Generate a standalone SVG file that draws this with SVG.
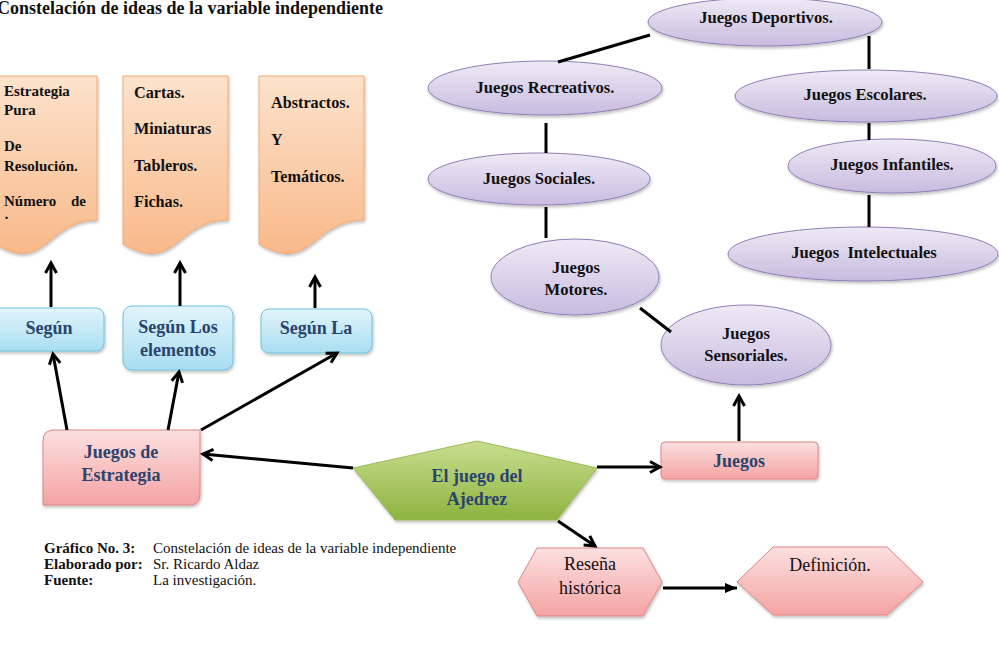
<svg xmlns="http://www.w3.org/2000/svg" width="999" height="650" viewBox="0 0 999 650">
<defs>
<linearGradient id="gOr" x1="0" y1="0" x2="0" y2="1"><stop offset="0" stop-color="#FDE3CC"/><stop offset="1" stop-color="#F9B98A"/></linearGradient>
<linearGradient id="gBl" x1="0" y1="0" x2="0" y2="1"><stop offset="0" stop-color="#E2F4FB"/><stop offset="1" stop-color="#A8DEF2"/></linearGradient>
<linearGradient id="gPk" x1="0" y1="0" x2="0" y2="1"><stop offset="0" stop-color="#FCE0E0"/><stop offset="1" stop-color="#F5A3A3"/></linearGradient>
<linearGradient id="gPu" x1="0" y1="0" x2="0" y2="1"><stop offset="0" stop-color="#EEEAF5"/><stop offset="1" stop-color="#C9BBE0"/></linearGradient>
<linearGradient id="gGr" x1="0" y1="0" x2="0" y2="1"><stop offset="0" stop-color="#C9DE8F"/><stop offset="1" stop-color="#8DB33F"/></linearGradient>
<filter id="sh" x="-10%" y="-10%" width="130%" height="140%"><feDropShadow dx="1" dy="2" stdDeviation="1.5" flood-color="#000" flood-opacity="0.25"/></filter>
<marker id="open" markerUnits="userSpaceOnUse" markerWidth="16" markerHeight="16" viewBox="0 0 16 16" refX="13" refY="8" orient="auto"><path d="M3,2.5 L13,8 L3,13.5" fill="none" stroke="#000" stroke-width="3"/></marker>
<marker id="fill" markerUnits="userSpaceOnUse" markerWidth="14" markerHeight="14" viewBox="0 0 14 14" refX="13" refY="7" orient="auto"><path d="M1,2 L13,7 L1,12 Z" fill="#000"/></marker>
</defs>
<style>
.doc{fill:url(#gOr);stroke:#F4A96F;stroke-width:1;filter:url(#sh)}
.blu{fill:url(#gBl);stroke:#6CC3DD;stroke-width:1;filter:url(#sh)}
.pnk{fill:url(#gPk);stroke:#E08585;stroke-width:1;filter:url(#sh)}
.pur{fill:url(#gPu);stroke:#8F7FB5;stroke-width:1;filter:url(#sh)}
.grn{fill:url(#gGr);stroke:#9BBB59;stroke-width:1;filter:url(#sh)}
.t{font-family:"Liberation Serif","Times New Roman",serif}
.b{font-weight:bold}
.db{fill:#2B446E}
.k{fill:#111}
.c{text-anchor:middle}
.ln{stroke:#000;stroke-width:3;fill:none}
</style>

<text class="t b k" x="-3" y="14" font-size="18">Constelación de ideas de la variable independiente</text>

<g id="doc1">
<path class="doc" d="M-5,76 H97 V220 C46,220 46,275 -5,244 Z"/>
<text class="t b k" font-size="15"><tspan x="4" y="96">Estrategia</tspan><tspan x="4" y="115">Pura</tspan><tspan x="4" y="151">De</tspan><tspan x="4" y="171">Resolución.</tspan><tspan x="4" y="206">Número</tspan><tspan x="71" y="206">de</tspan></text>
<text class="t b k" x="4" y="223" font-size="15">·</text>
</g>
<g id="doc2">
<path class="doc" d="M123,76 H228 V220 C175.5,220 175.5,275 123,244 Z"/>
<text class="t b k" font-size="16.2"><tspan x="134" y="98">Cartas.</tspan><tspan x="134" y="134">Miniaturas</tspan><tspan x="134" y="171">Tableros.</tspan><tspan x="134" y="207">Fichas.</tspan></text>
</g>
<g id="doc3">
<path class="doc" d="M259,76 H364 V220 C311.5,220 311.5,275 259,244 Z"/>
<text class="t b k" font-size="16.2"><tspan x="271" y="108">Abstractos.</tspan><tspan x="271" y="145">Y</tspan><tspan x="271" y="182">Temáticos.</tspan></text>
</g>

<g id="segun1">
<rect class="blu" x="-8" y="308" width="112" height="43" rx="8"/>
<text class="t b db c" x="49" y="334" font-size="18">Según</text>
</g>
<g id="segun2">
<rect class="blu" x="123" y="306" width="110" height="64" rx="9"/>
<text class="t b db c" font-size="18"><tspan x="178" y="333">Según Los</tspan><tspan x="178" y="356">elementos</tspan></text>
</g>
<g id="segun3">
<rect class="blu" x="261" y="309" width="111" height="44" rx="8"/>
<text class="t b db c" x="316" y="334" font-size="18">Según La</text>
</g>

<g id="estrategia">
<path class="pnk" d="M54,430 H200 V494 Q200,505 189,505 H43 V441 Q43,430 54,430 Z"/>
<text class="t b db c" font-size="18"><tspan x="121" y="458">Juegos de</tspan><tspan x="121" y="481">Estrategia</tspan></text>
</g>

<g id="ajedrez">
<polygon class="grn" points="353,468 477,441 597,468 557,520 395,520"/>
<text class="t b db c" font-size="18"><tspan x="477" y="482">El juego del</tspan><tspan x="477" y="505">Ajedrez</tspan></text>
</g>

<g id="juegos">
<rect class="pnk" x="661" y="442" width="157" height="37" rx="4"/>
<text class="t b db c" x="739" y="467" font-size="18">Juegos</text>
</g>

<g id="resena">
<polygon class="pnk" points="518,582 537,548 643,548 662,582 643,616 537,616"/>
<text class="t k c" font-size="18"><tspan x="590" y="570">Reseña</tspan><tspan x="590" y="594">histórica</tspan></text>
</g>

<g id="definicion">
<polygon class="pnk" points="737,582 773,547 887,547 923,582 887,615 773,615"/>
<text class="t k c" x="830" y="571" font-size="18">Definición.</text>
</g>

<g id="deportivos">
<ellipse class="pur" cx="765" cy="22" rx="117" ry="24"/>
<text class="t b k c" x="766" y="23" font-size="16.6">Juegos Deportivos.</text>
</g>
<g id="recreativos">
<ellipse class="pur" cx="545" cy="88" rx="117" ry="27"/>
<text class="t b k c" x="545" y="93" font-size="16.6">Juegos Recreativos.</text>
</g>
<g id="sociales">
<ellipse class="pur" cx="539" cy="179" rx="111" ry="26"/>
<text class="t b k c" x="539" y="184" font-size="16.6">Juegos Sociales.</text>
</g>
<g id="motores">
<ellipse class="pur" cx="575" cy="277" rx="84" ry="38"/>
<text class="t b k c" font-size="16.6"><tspan x="576" y="273">Juegos</tspan><tspan x="576" y="295">Motores.</tspan></text>
</g>
<g id="sensoriales">
<ellipse class="pur" cx="746" cy="345" rx="85" ry="40"/>
<text class="t b k c" font-size="16.6"><tspan x="746" y="339">Juegos</tspan><tspan x="746" y="361">Sensoriales.</tspan></text>
</g>
<g id="escolares">
<ellipse class="pur" cx="866" cy="96" rx="131" ry="26"/>
<text class="t b k c" x="865" y="100" font-size="16.6">Juegos Escolares.</text>
</g>
<g id="infantiles">
<ellipse class="pur" cx="892" cy="166" rx="104" ry="27"/>
<text class="t b k c" x="892" y="170" font-size="16.6">Juegos Infantiles.</text>
</g>
<g id="intelectuales">
<ellipse class="pur" cx="863" cy="254" rx="135" ry="27"/>
<text class="t b k c" x="864" y="258" font-size="16.6" xml:space="preserve">Juegos  Intelectuales</text>
</g>

<g id="connectors">
<line class="ln" x1="51" y1="307" x2="51" y2="263" marker-end="url(#open)"/>
<line class="ln" x1="180" y1="306" x2="180" y2="263" marker-end="url(#open)"/>
<line class="ln" x1="315" y1="308" x2="315" y2="277" marker-end="url(#open)"/>
<line class="ln" x1="67" y1="430" x2="53" y2="354" marker-end="url(#open)"/>
<line class="ln" x1="168" y1="430" x2="179" y2="372" marker-end="url(#open)"/>
<line class="ln" x1="201" y1="430" x2="337" y2="353" marker-end="url(#open)"/>
<line class="ln" x1="353" y1="468" x2="203" y2="454" marker-end="url(#open)"/>
<line class="ln" x1="597" y1="467" x2="660" y2="467" marker-end="url(#open)"/>
<line class="ln" x1="558" y1="521" x2="595" y2="546" marker-end="url(#open)"/>
<line class="ln" x1="663" y1="588" x2="737" y2="588" marker-end="url(#fill)"/>
<line class="ln" x1="739" y1="441" x2="739" y2="396" marker-end="url(#open)"/>
<line class="ln" x1="650" y1="35" x2="558" y2="62"/>
<line class="ln" x1="546" y1="123" x2="546" y2="153"/>
<line class="ln" x1="546" y1="207" x2="546" y2="238"/>
<line class="ln" x1="640" y1="308" x2="671" y2="332"/>
<line class="ln" x1="869" y1="36" x2="869" y2="69"/>
<line class="ln" x1="869" y1="123" x2="869" y2="140"/>
<line class="ln" x1="869" y1="195" x2="869" y2="227"/>
</g>

<g id="caption" class="t k" font-size="15">
<text x="44" y="553" class="b">Gráfico No. 3:</text><text x="153" y="553">Constelación de ideas de la variable independiente</text>
<text x="44" y="569" class="b">Elaborado por:</text><text x="153" y="569">Sr. Ricardo Aldaz</text>
<text x="44" y="585" class="b">Fuente:</text><text x="153" y="585">La investigación.</text>
</g>
</svg>
